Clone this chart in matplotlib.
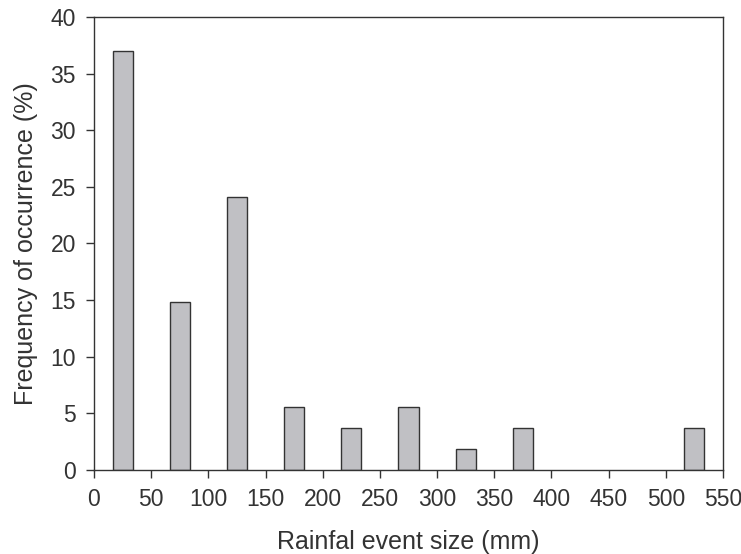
import numpy as np
import matplotlib.pyplot as plt

plt.rcParams['font.family'] = ['Liberation Sans', 'DejaVu Sans']

# Rainfall event size classes (bin centres, mm) and frequency (%)
bin_centres = [25, 75, 125, 175, 225, 275, 325, 375, 525]
frequency = [37.0, 14.8, 24.07, 5.56, 3.7, 5.56, 1.85, 3.7, 3.7]
x_ticks = list(range(0, 551, 50))
y_ticks = list(range(0, 41, 5))

fig = plt.figure(figsize=(7.41, 5.54), dpi=100)
ax = fig.add_axes([94 / 741, 1 - 470 / 554, 629 / 741, 453 / 554])

ax.bar(bin_centres, frequency, width=17.5, color='#c0c0c4',
       edgecolor='#333333', linewidth=1.0, zorder=2)

ax.set_xlim(0, 550)
ax.set_ylim(0, 40)
ax.set_xticks(x_ticks)
ax.set_yticks(y_ticks)
ax.tick_params(direction='out', length=6, width=1, labelsize=16.5,
               colors='#333333', top=False, right=False, pad=7)
for s in ax.spines.values():
    s.set_color('#333333')
    s.set_linewidth(1.0)

ax.set_xlabel('Rainfal event size (mm)', fontsize=18, color='#333333', labelpad=14)
ax.set_ylabel('Frequency of occurrence (%)', fontsize=18, color='#333333', labelpad=9)

fig.savefig('out.png', dpi=100)
